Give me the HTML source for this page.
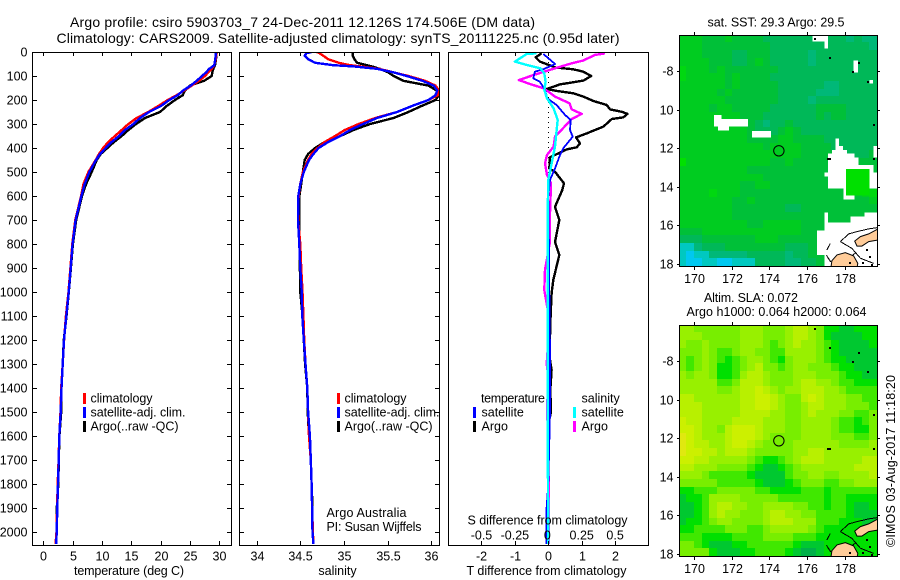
<!DOCTYPE html>
<html lang="en">
<head>
<meta charset="utf-8">
<title>Argo profile 5903703_7</title>
<style>
html,body{margin:0;padding:0;background:#fff;}
svg{display:block;}
text{font-family:"Liberation Sans",sans-serif;font-size:12.5px;fill:#000;}
.t{font-size:14px;}
.frame{fill:none;stroke:#000;stroke-width:1;shape-rendering:crispEdges;}
</style>
</head>
<body>
<svg id="fig" width="900" height="580" viewBox="0 0 900 580" xmlns="http://www.w3.org/2000/svg">
<rect x="0" y="0" width="900" height="580" fill="#fff"/>
<defs>
<clipPath id="c1"><rect x="32" y="52" width="200" height="494"/></clipPath>
<clipPath id="c2"><rect x="239" y="52" width="201" height="494"/></clipPath>
<clipPath id="c3"><rect x="448" y="52" width="201" height="494"/></clipPath>
<clipPath id="cm1"><rect x="679" y="35" width="199" height="232"/></clipPath>
<clipPath id="cm2"><rect x="679" y="325" width="199" height="232"/></clipPath>
</defs>
<text class="t" x="70" y="27" textLength="465">Argo profile: csiro 5903703_7 24-Dec-2011 12.126S 174.506E (DM data)</text>
<text class="t" x="56.5" y="43" textLength="563">Climatology: CARS2009. Satellite-adjusted climatology: synTS_20111225.nc (0.95d later)</text>

<g id="map1" clip-path="url(#cm1)"></g>
<g id="map2" clip-path="url(#cm2)"></g>
<g id="p1" clip-path="url(#c1)"></g>
<g id="p2" clip-path="url(#c2)"></g>
<g id="p3" clip-path="url(#c3)"></g>
<g id="axes"></g>

<rect class="frame" x="32.5" y="52.5" width="199" height="493"/>
<rect class="frame" x="239.5" y="52.5" width="200" height="493"/>
<rect class="frame" x="448.5" y="52.5" width="200" height="493"/>
<rect class="frame" x="679.5" y="35.5" width="198" height="231"/>
<rect class="frame" x="679.5" y="325.5" width="198" height="231"/>

<text x="129" y="575" text-anchor="middle" textLength="110">temperature (deg C)</text>
<text x="337.5" y="575" text-anchor="middle">salinity</text>
<text x="466.5" y="575" textLength="160">T difference from climatology</text>
<text x="467.5" y="524.5" textLength="160">S difference from climatology</text>

<g>
<rect x="83" y="393" width="3" height="11" fill="#f00"/>
<text x="90.5" y="402.5" textLength="62">climatology</text>
<rect x="83" y="407" width="3" height="11" fill="#00f"/>
<text x="90.5" y="416.5" textLength="95">satellite-adj. clim.</text>
<rect x="83" y="421" width="3" height="11" fill="#000"/>
<text x="90.5" y="430.5" textLength="88">Argo(..raw -QC)</text>
</g>
<g>
<rect x="337" y="393" width="3" height="11" fill="#f00"/>
<text x="344.5" y="402.5" textLength="62">climatology</text>
<rect x="337" y="407" width="3" height="11" fill="#00f"/>
<text x="344.5" y="416.5" textLength="95">satellite-adj. clim.</text>
<rect x="337" y="421" width="3" height="11" fill="#000"/>
<text x="344.5" y="430.5" textLength="88">Argo(..raw -QC)</text>
</g>
<text x="326.5" y="517" textLength="80">Argo Australia</text>
<text x="326.5" y="531" textLength="95">PI: Susan Wijffels</text>
<g>
<text x="481" y="402.5" textLength="64">temperature</text>
<rect x="473" y="407" width="3" height="11" fill="#00f"/>
<text x="481.5" y="416.5">satellite</text>
<rect x="473" y="421" width="3" height="11" fill="#000"/>
<text x="481.5" y="430.5">Argo</text>
<text x="581.5" y="402.5">salinity</text>
<rect x="573" y="407" width="3" height="11" fill="#0ff"/>
<text x="581.5" y="416.5">satellite</text>
<rect x="573" y="421" width="3" height="11" fill="#f0f"/>
<text x="581.5" y="430.5">Argo</text>
</g>

<text x="707.5" y="26.5" textLength="137">sat. SST: 29.3 Argo: 29.5</text>
<text x="704" y="302" textLength="94">Altim. SLA: 0.072</text>
<text x="686.5" y="316" textLength="180">Argo h1000: 0.064 h2000: 0.064</text>
<text transform="translate(895,547) rotate(-90)" textLength="172">©IMOS 03-Aug-2017 11:18:20</text>
</svg>
<script>
// ---- profile data ----
var upperDepth = [0,30,55,70,85,100,120,140,160,180,200,225,250,275,300,325,350,375,400,425,450,500,550,600,700,800,900,1000,1100,1200,1300,1400,1500,1600,1700,1800,1900,2000,2050];
var tempClim = [29.55,29.38,29.15,28.7,28.1,27.56,26.54,25.29,24.03,22.73,21.2,19.6,17.9,15.9,14.5,13.36,12.2,11.08,10.2,9.5,8.93,7.68,6.85,6.45,5.45,4.95,4.62,4.3,3.85,3.55,3.3,3.05,2.93,2.72,2.6,2.45,2.35,2.25,2.1];
var tempSat = [29.44,29.32,29.15,28.3,27.73,27.05,26.14,25.12,23.86,22.9,21.48,20.06,18.02,16.48,15.35,13.93,12.9,11.65,10.63,9.66,8.98,7.85,7.05,6.5,5.5,5.0,4.67,4.33,3.92,3.53,3.3,3.1,2.96,2.73,2.62,2.5,2.39,2.28,2.2];
var tempArgo = [29.55,29.44,29.27,28.98,28.8,28.7,27.4,25.0,24.15,23.76,22.45,21.03,19.9,17.34,15.8,14.5,13.36,12.05,10.92,9.78,9.1,8.25,7.3,6.6,5.6,5.05,4.7,4.35,3.95,3.5,3.3,3.1,3.05,2.75,2.65,2.55,2.3,2.25,2.2];

var salDepth = [0,5,15,30,45,55,60,70,85,100,120,140,160,180,200,225,250,275,300,325,350,375,400,425,450,500,550,600,700,800,900,1000,1100,1200,1300,1400,1500,1600,1700,1800,1900,2000,2050];
var salClim = [34.69,34.72,34.76,34.82,34.94,35.07,35.19,35.4,35.57,35.74,35.93,36.05,36.09,36.08,35.97,35.78,35.61,35.36,35.17,35.01,34.9,34.78,34.7,34.63,34.59,34.53,34.5,34.48,34.475,34.5,34.51,34.525,34.535,34.545,34.56,34.58,34.59,34.6,34.62,34.63,34.635,34.645,34.65];
var salSat = [34.63,34.57,34.55,34.59,34.67,34.88,35.11,35.38,35.57,35.72,35.9,36.03,36.07,36.05,35.97,35.78,35.61,35.38,35.22,35.07,34.96,34.82,34.71,34.65,34.6,34.54,34.5,34.477,34.474,34.489,34.5,34.516,34.523,34.54,34.56,34.58,34.59,34.61,34.62,34.63,34.635,34.64,34.65];
var salArgo = [35.1,35.1,35.1,35.12,35.15,35.26,35.32,35.41,35.51,35.57,35.68,35.97,36.06,36.09,36.05,35.89,35.74,35.57,35.3,35.11,34.96,34.78,34.67,34.59,34.55,34.53,34.51,34.49,34.49,34.49,34.495,34.5,34.525,34.54,34.555,34.58,34.585,34.6,34.62,34.63,34.64,34.64,34.65];

var tDiffArgoDepth = [6,22,40,56,64,72,82,100,119,135,154,162,172,186,204,221,239,249,258,272,279,311,322,339,356,381,397,406,429,439,485,499,547,575,645,700,792,846,950,1005,1100,1186,1283,1325,1408,1500,1550,2050];
var tDiffArgo = [-0.2,-0.38,-0.25,0.05,0.2,0.75,1.05,1.28,1.05,0.35,-0.05,0.25,0.75,1.05,1.35,1.75,1.85,2.2,2.37,2.25,1.9,1.65,1.45,1.15,0.83,0.95,0.85,0.55,0.2,0.05,0.03,0.2,0.47,0.42,0.2,0.33,0.2,0.33,0.15,0.1,0.07,0.05,0.05,0.1,0.06,0.08,0,0];
var tDiffSatDepth = [8,26,50,72,82,110,124,158,193,221,262,283,325,353,401,429,485,533,603,922,992,1250,1500,1800,1900,2050];
var tDiffSat = [-0.15,0,0.2,-0.15,-0.4,-0.45,-0.25,-0.1,-0.03,0.25,0.5,0.67,0.65,0.73,0.45,0.35,0.2,0.05,0,0.03,0.03,0.05,0.05,0,-0.05,-0.05];
var sDiffArgoDepth = [6,12,36,47,68,96,117,131,151,165,186,214,239,258,279,318,353,394,429,464,512,547,672,800,908,992,1087,1200,1300,1350,1500,1600,2050];
var sDiffArgo = [0.425,0.35,0.26,0.175,0.05,-0.11,-0.22,-0.15,-0.04,0,0.05,0.16,0.175,0.25,0.175,0.11,0.05,0.04,-0.01,-0.025,-0.01,0.02,0.013,0.01,-0.025,-0.03,0,0,-0.012,0,-0.01,0,0.005];
var sDiffSatDepth = [6,8,40,54,68,89,124,158,193,235,283,339,394,464,533,686,853,992,1500,2050];
var sDiffSat = [-0.09,-0.16,-0.25,-0.16,-0.06,-0.03,-0.02,-0.03,-0.01,0.04,0.07,0.06,0.05,0.025,0,-0.005,-0.005,-0.005,-0.005,0];

// ---- tick labels ----
var depthTicks = [0,100,200,300,400,500,600,700,800,900,1000,1100,1200,1300,1400,1500,1600,1700,1800,1900,2000];
var tempTicks = [0,5,10,15,20,25,30];
var salTicks = [34,34.5,35,35.5,36];
var tDiffTicks = [-2,-1,0,1,2];
var sDiffTicks = [-0.5,-0.25,0,0.25,0.5];
var lonTicks = [170,172,174,176,178];
var latTicks = [8,10,12,14,16,18];
var latTickLabels = ["-8","10","12","14","16","18"];

// ---- map data (colour-level per cell, rows north to south) ----
var sstGrid = [
[5,5,5,4,4,4,5,4,4,4,4,3,3,3,3,3,3,3,3,3,3,3,2,3,2,2],
[5,5,5,4,4,4,4,4,4,4,4,4,3,3,3,3,3,3,3,3,3,3,3,3,3,2],
[5,5,5,4,4,4,4,3,3,4,4,4,3,3,3,3,3,2,3,3,3,3,3,3,3,3],
[5,5,5,5,4,4,4,3,3,4,5,4,3,3,3,3,3,2,3,3,3,3,3,3,3,3],
[6,5,5,5,4,5,4,4,4,4,4,4,4,3,3,3,3,3,3,3,3,3,3,3,3,3],
[6,5,5,5,5,5,4,5,4,4,4,4,3,3,3,3,3,3,3,3,3,3,3,3,3,3],
[5,5,5,5,5,5,4,5,4,4,4,4,4,3,3,3,3,3,3,2,2,3,3,3,3,3],
[5,5,5,5,5,4,5,4,4,4,4,4,4,3,3,3,3,3,2,2,2,3,3,3,3,3],
[5,5,5,5,5,5,4,4,4,4,4,4,4,3,3,3,3,2,3,3,3,3,3,3,3,3],
[5,5,5,5,4,5,5,4,4,4,4,4,3,3,3,3,3,3,4,4,4,4,3,3,3,3],
[5,5,5,5,5,5,5,5,4,4,4,3,3,3,3,3,3,3,4,3,4,4,3,3,3,3],
[5,5,5,5,5,5,5,5,4,4,3,2,3,3,4,3,3,3,3,3,3,3,3,3,3,3],
[5,5,5,5,5,5,5,5,5,4,3,3,3,4,5,4,3,3,3,3,3,3,3,3,3,3],
[5,5,5,5,5,5,5,5,5,4,4,4,4,5,5,4,4,4,4,3,3,3,3,3,3,3],
[5,5,5,5,5,5,5,5,5,5,5,4,5,5,5,5,4,4,4,4,3,3,3,3,3,3],
[5,5,5,5,5,5,5,5,5,5,5,5,5,5,5,5,4,4,4,4,4,3,3,3,3,4],
[7,5,5,5,5,5,5,5,5,5,5,5,4,4,5,4,4,4,4,4,4,4,4,4,4,4],
[5,5,5,5,5,5,5,5,5,4,4,4,4,4,4,4,4,4,4,4,4,4,4,4,4,4],
[5,5,5,5,5,5,5,5,5,5,5,4,4,4,4,4,4,4,4,4,4,4,4,4,4,4],
[5,5,5,5,5,5,5,5,4,4,5,5,4,4,4,4,4,4,4,4,4,4,4,4,4,4],
[5,5,5,5,6,5,5,5,4,4,4,4,4,4,4,4,4,4,4,4,4,4,4,4,5,6],
[5,5,5,5,5,5,5,4,4,5,4,4,4,4,4,4,4,4,4,4,4,4,4,4,4,5],
[5,5,5,5,5,5,5,4,4,4,4,4,4,4,3,3,4,4,4,4,4,4,4,4,4,4],
[5,5,5,5,5,5,5,4,4,4,4,4,4,4,4,4,4,4,4,4,4,4,4,4,4,4],
[5,5,5,5,5,5,5,5,5,4,4,5,5,5,5,5,4,4,4,4,4,4,4,4,4,4],
[4,4,4,5,5,5,5,5,5,5,5,5,5,5,5,5,4,4,4,4,4,4,4,4,4,4],
[3,3,3,4,4,4,4,4,4,4,5,5,5,4,4,4,4,4,4,4,4,4,4,4,4,4],
[1,1,2,3,3,3,4,4,4,4,4,4,4,4,3,3,3,4,4,4,4,4,4,4,4,4],
[1,0,1,1,2,2,2,2,2,3,3,3,3,3,2,3,3,4,4,4,4,4,4,4,4,4],
[1,0,0,1,1,0,0,1,1,1,3,3,3,3,2,2,3,3,4,4,4,4,4,4,4,4]
];
var slaGrid = [
[5,5,4,4,4,4,4,4,5,5,5,4,4,4,5,6,6,5,4,2,2,1,1,2,2,2],
[5,5,5,4,4,4,4,4,5,5,5,4,4,4,5,6,6,5,4,2,1,1,1,1,2,2],
[5,4,4,5,4,4,4,4,5,5,5,4,3,4,5,6,5,5,4,3,2,1,1,1,1,2],
[4,4,4,5,4,3,3,4,5,5,4,4,3,3,5,5,5,5,4,3,2,1,1,1,1,1],
[4,3,4,5,4,3,2,3,4,5,5,4,3,2,4,5,5,5,4,3,2,2,1,1,1,1],
[4,3,4,5,4,2,2,3,4,5,6,4,4,3,4,5,5,4,4,4,3,2,2,1,1,1],
[5,4,5,5,4,2,2,3,5,6,6,5,4,4,4,5,5,5,4,4,4,3,2,2,1,1],
[5,5,5,5,5,3,3,4,6,6,6,5,4,4,4,5,6,6,5,5,4,3,3,2,2,2],
[5,5,5,5,5,4,4,5,6,6,7,6,5,4,5,5,6,6,6,5,5,4,3,3,3,3],
[6,6,5,5,5,5,5,5,6,6,7,7,6,5,4,4,6,7,6,5,5,5,4,4,3,3],
[6,6,6,5,5,5,5,5,6,6,7,7,6,5,4,4,5,6,6,5,5,5,4,4,4,3],
[6,6,6,5,5,5,5,5,6,6,6,6,5,5,4,4,5,6,5,5,5,4,4,3,3,4],
[7,6,6,5,5,5,5,6,6,6,6,5,5,5,4,4,5,5,5,5,4,3,3,2,3,4],
[7,7,6,5,5,4,6,7,7,7,6,5,5,5,4,4,5,5,5,5,4,3,3,2,2,4],
[8,7,6,5,5,5,6,7,7,7,6,5,4,4,4,4,5,5,5,5,4,4,4,3,3,4],
[8,7,6,6,5,5,6,7,7,6,5,4,4,4,4,5,5,5,5,5,5,4,4,4,4,5],
[8,7,7,6,6,5,6,6,6,5,4,4,4,4,4,5,5,6,6,5,5,5,5,5,5,5],
[7,7,6,6,5,5,5,5,5,4,3,2,2,3,4,5,6,6,6,5,5,5,5,5,6,6],
[6,6,5,5,5,4,4,4,4,3,2,1,1,2,3,4,5,5,5,5,5,5,5,6,6,6],
[5,5,5,4,3,3,3,3,3,2,1,1,1,1,3,4,4,5,5,4,4,5,5,5,5,6],
[4,4,4,4,4,3,3,3,3,3,2,1,1,1,2,3,4,4,4,3,3,4,4,5,5,5],
[2,2,3,3,3,4,4,4,4,4,3,3,2,2,2,2,3,3,3,2,3,3,3,3,3,3],
[1,2,2,3,5,5,5,5,4,4,4,4,4,3,3,3,3,3,3,2,3,3,2,2,2,2],
[1,1,2,3,5,6,6,5,5,4,4,5,5,5,5,4,4,3,3,2,3,3,2,1,1,2],
[1,1,2,3,5,6,5,5,4,4,4,5,6,6,5,5,4,4,3,3,3,3,2,1,1,1],
[1,2,2,3,4,5,5,4,4,4,4,5,6,6,6,5,5,5,3,3,3,2,2,2,1,1],
[2,2,3,3,3,3,4,4,4,3,3,4,5,5,5,5,5,4,3,2,2,2,2,2,2,2],
[3,3,3,2,2,2,2,3,3,3,3,4,4,4,4,3,3,3,2,2,2,2,2,2,2,2],
[4,4,3,2,1,1,1,2,2,3,3,3,3,3,3,2,1,1,1,2,2,2,2,2,2,2],
[4,4,4,4,2,1,1,1,2,2,3,3,3,3,2,1,0,0,1,2,2,2,2,2,2,2]
];
// missing SST regions: [west lon, east lon, north lat, south lat]
var sstGaps = [[176.29,177.10,6.13,6.46],[176.91,177.10,6.46,6.82],[178.46,178.69,7.45,8.07],[179.29,179.49,8.45,8.64],[171.08,172.88,10.47,10.87],[171.08,171.48,10.27,10.47],[171.29,171.87,10.87,11.08],[173.09,174.08,11.10,11.44],[179.51,179.8,11.88,12.48],[177.51,177.70,11.48,11.88],[177.51,177.90,11.88,12.08],[177.31,178.11,12.08,12.27],[177.10,178.50,12.27,12.48],[177.10,178.71,12.48,12.86],[177.10,179.52,12.86,13.07],[177.10,178.07,13.07,14.07],[176.91,177.10,13.26,13.47],[179.31,179.52,13.07,13.26],[179.31,179.8,13.26,14.07],[177.93,178.07,14.07,14.45],[177.93,178.50,14.45,14.66],[176.91,177.10,15.32,18.14],[177.10,179.8,15.85,18.14],[178.29,179.8,15.53,15.85],[179.03,179.8,15.32,15.53],[176.52,176.91,16.27,17.53]];
var sstWarmPatch = [178.07,179.31,13.07,14.45];
var profileLon = 174.506;
var profileLat = 12.126;
var vitiLevu = [[177.26,18.2],[177.31,17.83],[177.58,17.53],[178.02,17.41],[178.46,17.58],[178.68,17.97],[178.64,18.2]];
var vanuaLevu = [[178.52,16.81],[178.82,16.58],[179.26,16.44],[179.8,16.15],[179.8,16.75],[179.26,16.84],[178.90,17.07],[178.64,17.07]];
var reefLines = [
[[177.76,16.84],[178.2,16.44],[178.64,16.32],[179.26,16.18],[179.8,16.1]],
[[177.76,16.84],[178.37,17.19],[178.82,17.7],[179.52,17.97]],
[[177.05,17.27],[177.23,16.93]],
[[177.26,17.9],[177.02,17.55]],
[[178.37,17.58],[178.6,17.4]]
];
var islandSpecks = [[177.14,7.26],[178.67,7.5],[178.37,7.98],[179.17,8.48],[179.49,10.75],[177.05,12.48],[177.15,12.48],[179.49,12.52],[176.34,6.27],[179.1,17.2],[179.3,17.6],[178.9,17.9],[179.4,18.0],[178.2,17.9]];

var sstPalette = ["#00c8f0","#00c8c0","#00b878","#00b858","#00c038","#00cc20","#00d810","#00e000"];
var slaPalette = ["#00b048","#00c830","#00e000","#40e800","#78ee00","#98f000","#b8f000","#ccf000","#e0e810"];

// ---- scales ----
function yDepth(d){return 52+0.24*d;}
function xTemp(v){return 43.3+5.867*v;}
function xSal(v){return 256.7+87.2*(v-34);}
function xTDiff(v){return 548.3+33.4*v;}
function xSDiff(v){return 548.3+133.6*v;}
function xLon(v){return 693.7+18.9*(v-170);}
function yLat(v,origin){return origin+19.27*(v-8);}
var MAP1_Y8=71.3, MAP2_Y8=361.3;
var NS='http://www.w3.org/2000/svg';
function mk(tag,attrs,parent){
  var el=document.createElementNS(NS,tag);
  for(var k in attrs){el.setAttribute(k,attrs[k]);}
  parent.appendChild(el);
  return el;
}
function pathFrom(xs,ys){
  var s='';
  for(var i=0;i<xs.length;i++){s+=(i?'L':'M')+xs[i].toFixed(1)+' '+ys[i].toFixed(1);}
  return s;
}
function drawLine(parent,depth,vals,xf,colour,w,name){
  var el=mk('path',{d:pathFrom(vals.map(xf),depth.map(yDepth)),fill:'none',stroke:colour,'stroke-width':w,'stroke-linejoin':'round','shape-rendering':'crispEdges'},parent);
  
  
  return el;
}
var p1=document.getElementById('p1'),p2=document.getElementById('p2'),p3=document.getElementById('p3'),axes=document.getElementById('axes');

drawLine(p1,upperDepth,tempArgo,xTemp,'#000',2.4,'temperature-argo-line');
drawLine(p1,upperDepth,tempClim,xTemp,'#f00',2.4,'temperature-climatology-line');
drawLine(p1,upperDepth,tempSat,xTemp,'#00f',2.4,'temperature-satellite-line');
drawLine(p2,salDepth,salArgo,xSal,'#000',2.4,'salinity-argo-line');
drawLine(p2,salDepth,salClim,xSal,'#f00',2.4,'salinity-climatology-line');
drawLine(p2,salDepth,salSat,xSal,'#00f',2.4,'salinity-satellite-line');

var zeroLine=mk('line',{x1:xTDiff(0),x2:xTDiff(0),y1:yDepth(0),y2:yDepth(2050),stroke:'#000','stroke-width':1,'stroke-dasharray':'1 4','shape-rendering':'crispEdges'},p3);


drawLine(p3,tDiffArgoDepth,tDiffArgo,xTDiff,'#000',2.4,'t-difference-argo-line');
drawLine(p3,sDiffArgoDepth,sDiffArgo,xSDiff,'#f0f',2.4,'s-difference-argo-line');
drawLine(p3,tDiffSatDepth,tDiffSat,xTDiff,'#00f',1.8,'t-difference-satellite-line');
drawLine(p3,sDiffSatDepth,sDiffSat,xSDiff,'#0ff',2.4,'s-difference-satellite-line');

function tick(x1,y1,x2,y2){
  var el=mk('line',{x1:x1,y1:y1,x2:x2,y2:y2,stroke:'#000','stroke-width':1,'shape-rendering':'crispEdges'},axes);
  
  
}
function label(x,y,txt,anchor){
  var el=mk('text',{x:x,y:y,'text-anchor':anchor},axes);
  el.textContent=txt;
  
  
}
depthTicks.forEach(function(d){
  var y=Math.round(yDepth(d))+0.5;
  if(d>0){
    tick(32,y,37,y);tick(227,y,232,y);
    tick(239,y,244,y);tick(435,y,440,y);
  }
  label(27.5,y+4,String(d),'end');
});
tempTicks.forEach(function(v){
  var x=Math.round(xTemp(v))+0.5;
  tick(x,52,x,56);tick(x,541,x,545);
  label(x,560.5,String(v),'middle');
});
salTicks.forEach(function(v){
  var x=Math.round(xSal(v))+0.5;
  tick(x,52,x,56);tick(x,541,x,545);
  label(x,560.5,String(v),'middle');
});
tDiffTicks.forEach(function(v){
  var x=Math.round(xTDiff(v))+0.5;
  tick(x,52,x,56);tick(x,541,x,545);
  label(x,560.5,String(v),'middle');
});
sDiffTicks.forEach(function(v){
  label(xSDiff(v)-(v===0?1:0),539.5,String(v),'middle');
});

function drawMap(groupId,grid,palette,y8,ticksTop,ticksBottom,labelY){
  var g=document.getElementById(groupId);
  var lon0=169.24,lat0=6.13,dLon=0.4031,dLat=0.4003;
  for(var j=0;j<grid.length;j++){
    for(var i=0;i<grid[j].length;i++){
      var x=Math.floor(xLon(lon0+i*dLon));
      var y=Math.floor(yLat(lat0+j*dLat,y8));
      var x2=Math.ceil(xLon(lon0+(i+1)*dLon));
      var y2=Math.ceil(yLat(lat0+(j+1)*dLat,y8));
      var c=mk('rect',{x:x,y:y,width:x2-x,height:y2-y,fill:palette[grid[j][i]],'shape-rendering':'crispEdges'},g);
      
      
    }
  }
  lonTicks.forEach(function(v){
    var x=Math.round(xLon(v))+0.5;
    tick(x,ticksTop-3,x,ticksTop);
    tick(x,ticksBottom,x,ticksBottom+3);
    label(x,labelY,String(v),'middle');
  });
  latTicks.forEach(function(v,k){
    var y=Math.round(yLat(v,y8))+0.5;
    tick(677,y,680,y);
    tick(877,y,880,y);
    label(673.5,y+4,latTickLabels[k],'end');
  });
}
drawMap('map1',sstGrid,sstPalette,MAP1_Y8,35,267,283);
drawMap('map2',slaGrid,slaPalette,MAP2_Y8,325,557,573);

var map1=document.getElementById('map1');
sstGaps.forEach(function(b){
  var x=xLon(b[0]),y=yLat(b[2],MAP1_Y8);
  var el=mk('rect',{x:x,y:y,width:xLon(b[1])-x,height:yLat(b[3],MAP1_Y8)-y,fill:'#fff','shape-rendering':'crispEdges'},map1);
  
  
});
(function(){
  var b=sstWarmPatch,x=xLon(b[0]),y=yLat(b[2],MAP1_Y8);
  var el=mk('rect',{x:x,y:y,width:xLon(b[1])-x,height:yLat(b[3],MAP1_Y8)-y,fill:sstPalette[7],'shape-rendering':'crispEdges'},map1);
  
  
})();

function drawLand(groupId,y8){
  var g=document.getElementById(groupId);
  [vitiLevu,vanuaLevu].forEach(function(poly){
    var pts=poly.map(function(p){return xLon(p[0]).toFixed(1)+','+yLat(p[1],y8).toFixed(1);}).join(' ');
    var el=mk('polygon',{points:pts,fill:'#ffcc99',stroke:'#000','stroke-width':1},g);
    
    
  });
  reefLines.forEach(function(line){
    var pts=line.map(function(p){return xLon(p[0]).toFixed(1)+','+yLat(p[1],y8).toFixed(1);}).join(' ');
    var el=mk('polyline',{points:pts,fill:'none',stroke:'#000','stroke-width':1,'shape-rendering':'crispEdges'},g);
    
    
  });
  islandSpecks.forEach(function(p){
    var el=mk('rect',{x:Math.round(xLon(p[0])),y:Math.round(yLat(p[1],y8)),width:2,height:2,fill:'#000'},g);
    
    
  });
  var c=mk('circle',{cx:xLon(profileLon),cy:yLat(profileLat,y8),r:5.2,fill:'none',stroke:'#000','stroke-width':1},g);
  
  
}
drawLand('map1',MAP1_Y8);
drawLand('map2',MAP2_Y8);
</script>
</body>
</html>
